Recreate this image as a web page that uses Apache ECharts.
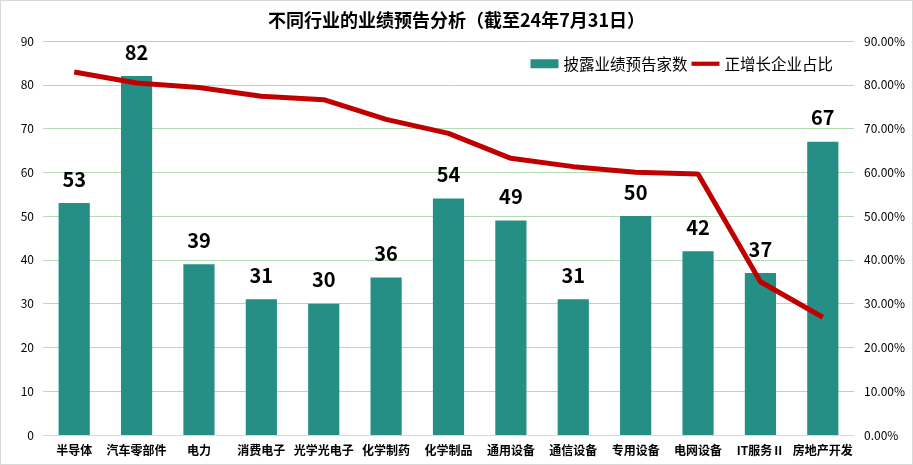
<!DOCTYPE html>
<html>
<head>
<meta charset="utf-8" />
<title>不同行业的业绩预告分析</title>
<script src="https://cdn.jsdelivr.net/npm/echarts@6/dist/echarts.min.js"></script>
<style>
  html, body { margin: 0; padding: 0; background: #fff; }
  #main { width: 911px; height: 463px; border: 1px solid #d9d9d9; }
</style>
</head>
<body>
<div id="main"></div>
<script>
var categories = ['半导体', '汽车零部件', '电力', '消费电子', '光学光电子', '化学制药', '化学制品', '通用设备', '通信设备', '专用设备', '电网设备', 'IT服务Ⅱ', '房地产开发'];
var counts = [53, 82, 39, 31, 30, 36, 54, 49, 31, 50, 42, 37, 67];
var positiveRatio = [0.829, 0.804, 0.794, 0.774, 0.766, 0.721, 0.689, 0.632, 0.613, 0.600, 0.596, 0.350, 0.269];

var fontCJK = '"Noto Sans CJK SC", "Noto Sans", sans-serif';

var chart = echarts.init(document.getElementById('main'));
var option = {
  animation: false,
  textStyle: { fontFamily: fontCJK },
  title: {
    text: '不同行业的业绩预告分析（截至24年7月31日）',
    left: 'center',
    top: 5,
    textStyle: { fontSize: 18, fontWeight: 'bold', color: '#000', fontFamily: fontCJK }
  },
  legend: {
    right: 74,
    top: 50,
    itemGap: 4,
    itemWidth: 28,
    itemHeight: 9,
    textStyle: { fontSize: 15.5, color: '#000' },
    data: [
      { name: '披露业绩预告家数', icon: 'rect' },
      { name: '正增长企业占比', icon: 'path://M0,0 L30,0 L30,4.5 L0,4.5 Z' }
    ]
  },
  grid: { left: 42, right: 58, top: 40, bottom: 29, containLabel: false },
  xAxis: {
    type: 'category',
    data: categories,
    axisLine: { lineStyle: { color: '#d9d9d9', width: 1 } },
    axisTick: { show: false },
    axisLabel: { interval: 0, fontSize: 12, fontWeight: 'bold', color: '#000', margin: 9 }
  },
  yAxis: [
    {
      type: 'value',
      min: 0, max: 90, interval: 10,
      axisLine: { show: false },
      axisTick: { show: false },
      splitLine: { lineStyle: { color: '#b4dcb4' } },
      axisLabel: { fontSize: 12, color: '#000', margin: 9 }
    },
    {
      type: 'value',
      min: 0, max: 0.9, interval: 0.1,
      axisLine: { show: false },
      axisTick: { show: false },
      splitLine: { show: false },
      axisLabel: {
        fontSize: 12, color: '#000', margin: 10,
        formatter: function (v) { return (v * 100).toFixed(2) + '%'; }
      }
    }
  ],
  series: [
    {
      name: '披露业绩预告家数',
      type: 'bar',
      data: counts,
      barWidth: '50%',
      itemStyle: { color: '#258f86' },
      label: {
        show: true,
        position: 'top',
        distance: 14,
        fontSize: 20,
        fontWeight: 'bold',
        color: '#000'
      }
    },
    {
      name: '正增长企业占比',
      type: 'line',
      yAxisIndex: 1,
      data: positiveRatio,
      symbol: 'none',
      lineStyle: { color: '#c00000', width: 5 },
      itemStyle: { color: '#c00000' }
    }
  ]
};
chart.setOption(option);
</script>
</body>
</html>
